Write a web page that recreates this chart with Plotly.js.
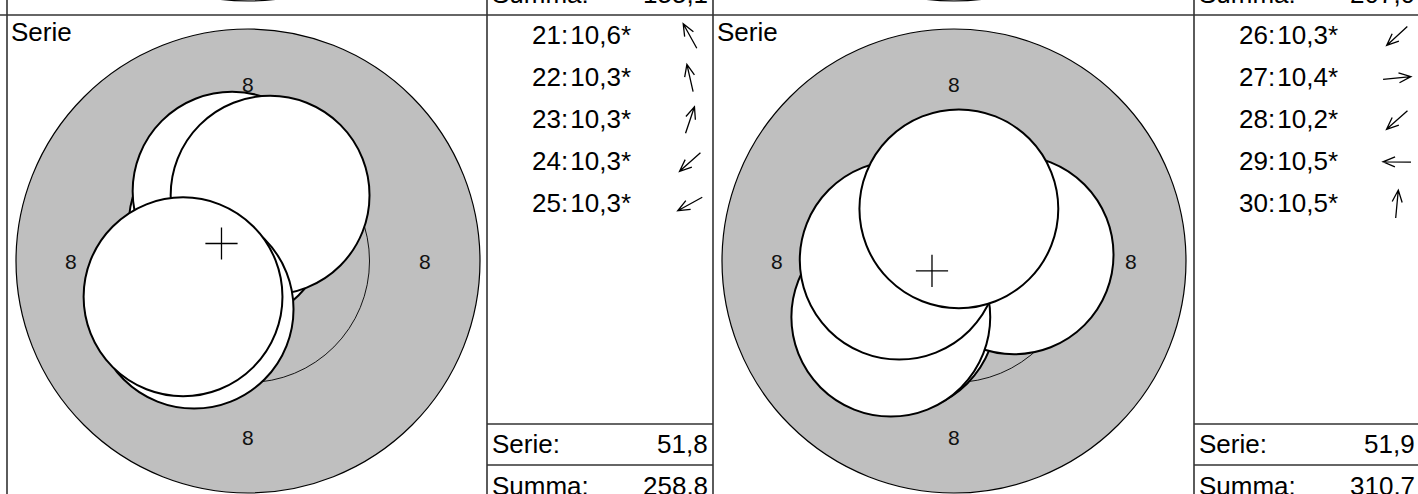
<!DOCTYPE html>
<html>
<head>
<meta charset="utf-8">
<script src="https://cdn.plot.ly/plotly-3.0.1.min.js"></script>
<style>
  html, body { margin: 0; padding: 0; background: #fff; }
  #chart { width: 1418px; height: 494px; }
</style>
</head>
<body>
<div id="chart"></div>
<script>
// series 5 and 6; shot positions in mm from the target centre (x right, y up)
const shotsA = [21, 22, 23, 24, 25];
const scoresA = [10.6, 10.3, 10.3, 10.3, 10.3];
const xA = [-0.45, -0.36, 0.50, -1.22, -1.47];
const yA = [0.81, 1.58, 1.49, -1.09, -0.81];

const shotsB = [26, 27, 28, 29, 30];
const scoresB = [10.3, 10.4, 10.2, 10.5, 10.5];
const xB = [-1.29, 1.36, -1.43, -1.24, 0.11];
const yB = [-1.18, 0.14, -1.27, 0.02, 1.18];

// running totals shown in the row above (only its bottom edge is in view)
const summaAbove = [155.1, 207.0];

// target: ring 8 and ring 9 radii, pellet radius (mm)
const ringRadii = [5.25, 2.75];
const ringLabel = "8";
const pelletRadius = 2.25;

// ---- page geometry (pixels) ----
const W = 1418, H = 494;
const S = 232 / ringRadii[0];          // px per mm
const CX_OFF = 241, CY = 261, TOP = 15, PITCH = 492;
const ROW_Y0 = 35, ROW_STEP = 42;
const LINE_SERIE = 424, LINE_SUMMA = 465;
const FONT = "Liberation Sans, Arial, Helvetica, sans-serif";
const GRAY = "#bfbfbf";
const INK = "#000";

const px = v => v / W;
const py = v => 1 - v / H;
const fmt = v => v.toFixed(1).replace(".", ",");
const sum = a => a.reduce((s, v) => s + v, 0);
const mean = a => sum(a) / a.length;

const serieA = sum(scoresA), serieB = sum(scoresB);
const summaA = summaAbove[1] + serieA;
const summaB = summaA + serieB;

const panels = [
  { left: 7, table: 487, ax: "x", shots: shotsA, scores: scoresA, xs: xA, ys: yA,
    serie: serieA, summa: summaA, summaPrev: summaAbove[0] },
  { left: 713, table: 1194, ax: "x2", shots: shotsB, scores: scoresB, xs: xB, ys: yB,
    serie: serieB, summa: summaB, summaPrev: summaAbove[1] },
];

const shapes = [];
const annotations = [];
const traces = [];
const layout = {
  width: W, height: H,
  margin: { l: 0, r: 0, t: 0, b: 0 },
  paper_bgcolor: "#fff",
  plot_bgcolor: "rgba(0,0,0,0)",
  showlegend: false,
  font: { family: FONT, color: INK },
  yaxis: {
    domain: [0, 1 - TOP / H],
    range: [-(H - CY) / S, (CY - TOP) / S],
    visible: false, fixedrange: true,
  },
  shapes, annotations,
};

const text = (t, x, y, anchor, size) => annotations.push({
  xref: "paper", yref: "paper", x: px(x), y: py(y),
  xanchor: anchor, yanchor: "middle", text: t, showarrow: false,
  font: { family: FONT, size: size || 26, color: INK },
});

panels.forEach((p, k) => {
  const axName = k === 0 ? "xaxis" : "xaxis2";
  const cx = p.left + CX_OFF;
  layout[axName] = {
    domain: [px(p.left), px(p.table)],
    range: [(p.left - cx) / S, (p.table - cx) / S],
    anchor: "y", visible: false, fixedrange: true,
  };

  // target rings
  ringRadii.forEach((r, i) => shapes.push({
    type: "circle", xref: p.ax, yref: "y", layer: "below",
    x0: -r, x1: r, y0: -r, y1: r,
    fillcolor: GRAY, line: { color: INK, width: i === 0 ? 1.2 : 0.9 },
  }));
  // ring of the row above, only its lowest edge shows
  const r8 = ringRadii[0];
  shapes.push({
    type: "circle", xref: p.ax, yref: "paper", layer: "above",
    x0: -r8, x1: r8,
    y0: py(CY - PITCH + r8 * S), y1: py(CY - PITCH - r8 * S),
    fillcolor: GRAY, line: { color: INK, width: 1.2 },
  });

  // shot holes, in shooting order so later shots lie on top
  p.xs.forEach((x, i) => shapes.push({
    type: "circle", xref: p.ax, yref: "y", layer: "below",
    x0: x - pelletRadius, x1: x + pelletRadius,
    y0: p.ys[i] - pelletRadius, y1: p.ys[i] + pelletRadius,
    fillcolor: "#fff", line: { color: INK, width: 2 },
  }));

  // ring numbers, in the middle of ring 8
  const mid = (ringRadii[0] + ringRadii[1]) / 2;
  [[0, mid], [0, -mid], [-mid, 0], [mid, 0]].forEach(([x, y]) => annotations.push({
    xref: p.ax, yref: "y", x, y, text: ringLabel, showarrow: false,
    font: { family: FONT, size: 21, color: "#111" },
  }));

  // mean point of impact
  traces.push({
    type: "scatter", mode: "markers", xaxis: p.ax, yaxis: "y",
    x: [mean(p.xs)], y: [mean(p.ys)], hoverinfo: "skip",
    marker: { symbol: "cross-thin", size: 23, color: INK, line: { color: INK, width: 1.3 } },
  });

  text("Serie", p.left + 2, 32, "left");

  // shot list with direction arrows
  p.shots.forEach((n, i) => {
    const yc = ROW_Y0 + i * ROW_STEP;
    text(`${n}:\u200a${fmt(p.scores[i])}*`, p.table + 43, yc, "left");
    const d = Math.hypot(p.xs[i], p.ys[i]);
    const ux = p.xs[i] / d, uy = -p.ys[i] / d;     // screen direction
    const ac = [p.table + 203, yc + 1], L = 28, HL = 12, HW = 5;
    const tip = [ac[0] + ux * L / 2, ac[1] + uy * L / 2];
    const tail = [ac[0] - ux * L / 2, ac[1] - uy * L / 2];
    const b = [tip[0] - ux * HL, tip[1] - uy * HL];
    const h1 = [b[0] - uy * HW, b[1] + ux * HW];
    const h2 = [b[0] + uy * HW, b[1] - ux * HW];
    const P = q => `${px(q[0]).toFixed(5)},${py(q[1]).toFixed(5)}`;
    shapes.push({
      type: "path", xref: "paper", yref: "paper", layer: "above",
      path: `M${P(tail)}L${P(tip)}M${P(h1)}L${P(tip)}L${P(h2)}`,
      line: { color: INK, width: 1.3 },
    });
  });

  // totals
  text("Serie:", p.table + 3, 444, "left");
  text(fmt(p.serie), p.table + 223, 444, "right");
  text("Summa:", p.table + 3, 486, "left");
  text(fmt(p.summa), p.table + 223, 486, "right");
  text("Summa:", p.table + 3, 486 - PITCH, "left");
  text(fmt(p.summaPrev), p.table + 223, 486 - PITCH, "right");

  // table grid
  [LINE_SERIE, LINE_SUMMA].forEach(yl => shapes.push({
    type: "line", xref: "paper", yref: "paper", layer: "above",
    x0: px(p.table), x1: px(Math.min(p.table + 226, W)), y0: py(yl), y1: py(yl),
    line: { color: "#333", width: 1.6 },
  }));
  [p.left, p.table].forEach(xl => shapes.push({
    type: "line", xref: "paper", yref: "paper", layer: "above",
    x0: px(xl), x1: px(xl), y0: 0, y1: 1,
    line: { color: "#333", width: 1.6 },
  }));
});

shapes.push({
  type: "line", xref: "paper", yref: "paper", layer: "above",
  x0: 0, x1: 1, y0: py(TOP), y1: py(TOP),
  line: { color: "#333", width: 1.6 },
});

Plotly.newPlot("chart", traces, layout, { staticPlot: true, displayModeBar: false });
</script>
</body>
</html>
